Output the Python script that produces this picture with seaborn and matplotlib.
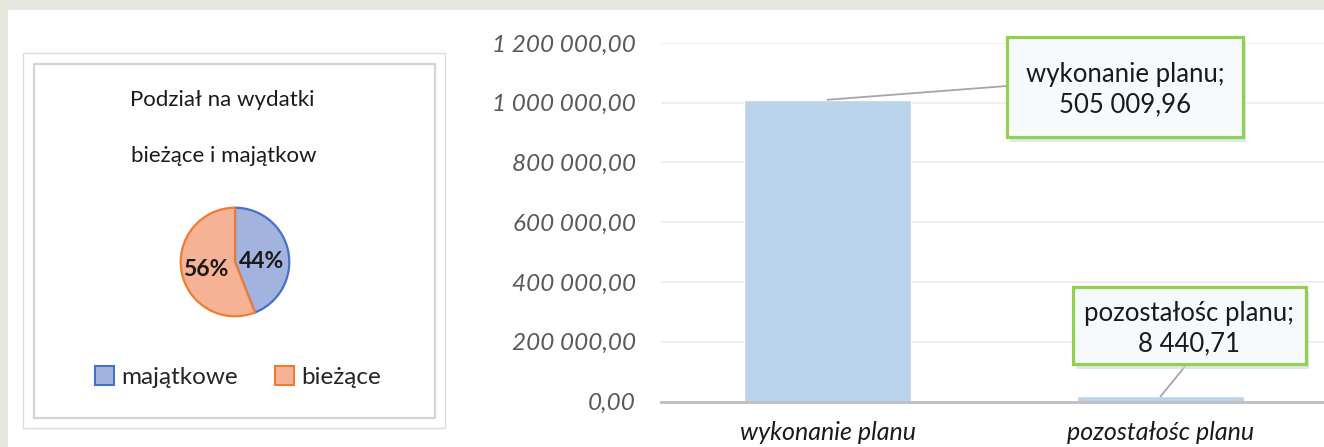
import matplotlib
matplotlib.use("Agg")
import matplotlib.pyplot as plt
from matplotlib.patches import Rectangle, Patch
import seaborn as sns
import pandas as pd

# =====================================
# Data
# =====================================
pie_labels = ["majątkowe", "bieżące"]
pie_values = [44, 56]
pie_fill = ["#a3b3e0", "#f5b294"]
pie_edge = ["#4472c4", "#ed7d31"]

bar_categories = ["wykonanie planu", "pozostałośc planu"]
bar_values = [1010019.92, 16881.42]
bar_texts = ["505 009,96", "8 440,71"]
y_ticks = [0, 200000, 400000, 600000, 800000, 1000000, 1200000]

W, H = 1324, 447


def fx(px):
    return px / W


def fy(py):
    return 1 - py / H


sns.set_style("white")
plt.rcParams["font.family"] = ["Lato", "DejaVu Sans"]

fig = plt.figure(figsize=(W / 100, H / 100), dpi=100)
fig.patch.set_facecolor("white")

# =====================================
# Background strips and left panel frame
# =====================================
fig.patches.append(Rectangle((0, fy(10)), 1, 10 / H, transform=fig.transFigure,
                             facecolor="#e7e6df", edgecolor="none", zorder=0))
fig.patches.append(Rectangle((0, 0), fx(8), 1, transform=fig.transFigure,
                             facecolor="#e5e7dc", edgecolor="none", zorder=0))
fig.patches.append(Rectangle((fx(23), fy(428)), fx(445) - fx(23), (428 - 53) / H,
                             transform=fig.transFigure, facecolor="none",
                             edgecolor="#dcdcdc", lw=1, zorder=1))
fig.patches.append(Rectangle((fx(34), fy(418)), fx(435) - fx(34), (418 - 64) / H,
                             transform=fig.transFigure, facecolor="none",
                             edgecolor="#d4d4d4", lw=1.6, zorder=1))

# =====================================
# Pie chart
# =====================================
r = 57
ax_pie = fig.add_axes([fx(235 - r), fy(262 + r), 2 * r / W, 2 * r / H])
wedges, _ = ax_pie.pie(pie_values, colors=pie_fill, startangle=90, counterclock=False,
                       radius=1, wedgeprops=dict(linewidth=1.6))
for w, ec in zip(wedges, pie_edge):
    w.set_edgecolor(ec)
ax_pie.set_xlim(-1.05, 1.05)
ax_pie.set_ylim(-1.05, 1.05)
ax_pie.set_aspect("equal")
ax_pie.axis("off")

fig.text(fx(262), fy(261), f"{pie_values[0]}%", ha="center", va="center",
         fontsize=16.5, fontweight="bold", color="#1a1a1a")
fig.text(fx(206), fy(270), f"{pie_values[1]}%", ha="center", va="center",
         fontsize=16.5, fontweight="bold", color="#1a1a1a")

fig.text(fx(222), fy(100), "Podział na wydatki", ha="center", va="center",
         fontsize=16, color="#1a1a1a")
fig.text(fx(224), fy(156), "bieżące i majątkow", ha="center", va="center",
         fontsize=16, color="#1a1a1a")

handles = [Patch(facecolor=c, edgecolor=e, linewidth=1.5) for c, e in zip(pie_fill, pie_edge)]
fig.legend(handles, pie_labels, loc="center", bbox_to_anchor=(fx(238), fy(377)),
           ncol=2, frameon=False, fontsize=17.5, handlelength=0.8, handleheight=0.8,
           handletextpad=0.3, columnspacing=1.5)

# =====================================
# Bar chart
# =====================================
ax = fig.add_axes([fx(661), fy(401.5), 666 / W, (401.5 - 43) / H])
df = pd.DataFrame({"kategoria": bar_categories, "wartosc": bar_values})
sns.barplot(data=df, x="kategoria", y="wartosc", color="#bad4ec", saturation=1,
            width=0.5, ax=ax, zorder=2)
ax.set_facecolor("none")
ax.set_xlim(-0.5, 1.5)
ax.set_ylim(0, 1200000)
ax.set_yticks(y_ticks)
ax.set_yticklabels([f"{v:,.2f}".replace(",", " ").replace(".", ",") for v in y_ticks],
                   fontsize=17.5, style="italic", color="#595959")
ax.tick_params(axis="y", length=0, pad=18)
ax.yaxis.grid(True, color="#ececec", lw=1.2)
ax.set_axisbelow(True)
for s in ["top", "right", "left"]:
    ax.spines[s].set_visible(False)
ax.spines["bottom"].set_color("#bfbfbf")
ax.spines["bottom"].set_linewidth(2)
ax.spines["bottom"].set_zorder(3)
ax.set_xticks([0, 1])
ax.set_xticklabels(bar_categories, fontsize=18, style="italic", color="#1a1a1a")
ax.set_xticks([-0.5, 0.5, 1.5], minor=True)
ax.tick_params(axis="x", which="major", length=0, pad=14)
ax.tick_params(axis="x", which="minor", length=6, width=2, color="#bfbfbf")
ax.set_xlabel("")
ax.set_ylabel("")

# =====================================
# Data callouts
# =====================================
boxes = [(1007, 37, 1243, 137), (1073, 287, 1306, 364)]
anchors = [(1007, 86), (1187, 364)]
for i, (x0, y0, x1, y1) in enumerate(boxes):
    # soft shadow
    fig.patches.append(Rectangle((fx(x0 + 3), fy(y1 + 5)), (x1 - x0) / W, (y1 - y0) / H,
                                 transform=fig.transFigure, facecolor="#c9d6ea",
                                 edgecolor="none", alpha=0.6, zorder=4))
    fig.patches.append(Rectangle((fx(x0), fy(y1)), (x1 - x0) / W, (y1 - y0) / H,
                                 transform=fig.transFigure, facecolor="#f7fafd",
                                 edgecolor="#92d050", lw=2.3, zorder=5))
    fig.text(fx((x0 + x1) / 2), fy((y0 + y1) / 2 + 3),
             f"{bar_categories[i]};\n{bar_texts[i]}", ha="center", va="center",
             fontsize=18.5, color="#1a1a1a", linespacing=1.25, zorder=6)
    ax.annotate("", xy=(i, bar_values[i]), xycoords="data",
                xytext=(fx(anchors[i][0]), fy(anchors[i][1])), textcoords="figure fraction",
                arrowprops=dict(arrowstyle="-", color="#a6a6a6", lw=1.3,
                                shrinkA=0, shrinkB=0), zorder=3)

fig.savefig("out.png", dpi=100)
